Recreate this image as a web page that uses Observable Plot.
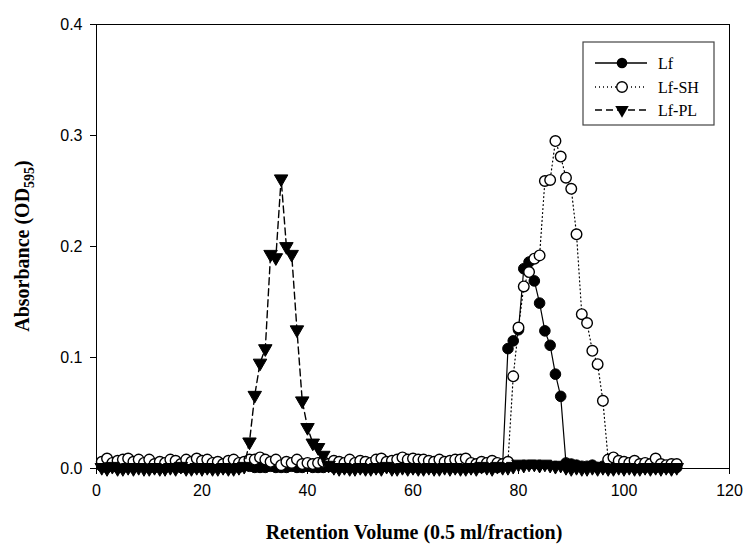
<!DOCTYPE html>
<html>
<head>
<meta charset="utf-8">
<script src="https://cdn.jsdelivr.net/npm/d3@7"></script>
<script src="https://cdn.jsdelivr.net/npm/@observablehq/plot@0.6"></script>
<style>
  html, body { margin: 0; padding: 0; background: #fff; }
  #chart { width: 745px; height: 545px; }
</style>
</head>
<body>
<div id="chart"></div>
<script>
// Fractions 1..110
const fractions = Array.from({length: 110}, (_, i) => i + 1);

// Lf (filled circles, solid line)
const lfValues = [
  0.002,0.001,0.003,0.001,0.001,0.002,0.001,0.003,0.002,0.001,
  0.001,0.002,0.001,0.002,0.003,0.001,0.001,0.002,0.001,0.002,
  0.001,0.003,0.002,0.001,0.001,0.002,0.001,0.003,0.002,0.001,
  0.001,0.001,0.002,0.001,0.001,0.001,0.002,0.001,0.001,0.002,
  0.001,0.001,0.001,0.002,0.001,0.003,0.001,0.001,0.002,0.001,
  0.002,0.001,0.001,0.001,0.002,0.001,0.003,0.002,0.001,0.001,
  0.001,0.002,0.001,0.001,0.001,0.002,0.003,0.001,0.002,0.001,
  0.001,0.002,0.001,0.003,0.002,0.001,0.004,0.108,0.115,0.125,
  0.180,0.186,0.169,0.149,0.124,0.111,0.085,0.065,0.005,0.004,
  0.003,0.002,0.002,0.003,0.001,0.002,0.001,0.001,0.002,0.001,
  0.002,0.001,0.001,0.001,0.002,0.001,0.002,0.001,0.001,0.001
];

// Lf-SH (open circles, dotted line)
const lfShValues = [
  0.006,0.009,0.005,0.007,0.008,0.009,0.006,0.008,0.005,0.008,
  0.004,0.006,0.005,0.008,0.007,0.004,0.008,0.006,0.009,0.007,
  0.008,0.005,0.006,0.004,0.007,0.008,0.005,0.006,0.008,0.008,
  0.010,0.008,0.006,0.008,0.003,0.006,0.005,0.008,0.004,0.005,
  0.004,0.005,0.006,0.004,0.007,0.006,0.005,0.008,0.005,0.007,
  0.006,0.005,0.008,0.009,0.006,0.007,0.008,0.010,0.008,0.009,
  0.008,0.008,0.007,0.006,0.008,0.006,0.007,0.008,0.008,0.009,
  0.005,0.004,0.006,0.005,0.007,0.005,0.004,0.006,0.083,0.127,
  0.164,0.177,0.189,0.192,0.259,0.260,0.295,0.281,0.262,0.252,
  0.211,0.139,0.131,0.106,0.094,0.061,0.008,0.010,0.007,0.006,
  0.005,0.007,0.004,0.005,0.004,0.009,0.004,0.003,0.004,0.004
];

// Lf-PL (down triangles, dashed line)
const lfPlValues = [
  0.001,0.000,0.002,0.000,0.000,0.001,0.000,0.001,0.000,0.000,
  0.001,0.000,0.000,0.001,0.000,0.002,0.000,0.000,0.001,0.000,
  0.001,0.000,0.000,0.001,0.000,0.000,0.001,0.002,0.024,0.066,
  0.095,0.108,0.193,0.190,0.261,0.200,0.193,0.125,0.061,0.037,
  0.023,0.019,0.012,0.003,0.001,0.000,0.001,0.000,0.000,0.001,
  0.000,0.000,0.001,0.000,0.002,0.000,0.000,0.001,0.000,0.001,
  0.000,0.000,0.001,0.000,0.000,0.001,0.000,0.001,0.000,0.000,
  0.001,0.000,0.002,0.001,0.000,0.002,0.001,0.001,0.002,0.004,
  0.003,0.004,0.004,0.003,0.004,0.003,0.002,0.003,0.001,0.000,
  0.001,0.000,0.000,0.001,0.000,0.001,0.000,0.000,0.001,0.000,
  0.001,0.000,0.000,0.001,0.000,0.001,0.000,0.001,0.000,0.001
];

const seriesNames = ["Lf", "Lf-SH", "Lf-PL"];
const xTicks = [0, 20, 40, 60, 80, 100, 120];
const yTicks = [0, 0.1, 0.2, 0.3, 0.4];
const xLabel = "Retention Volume (0.5 ml/fraction)";
const yLabelMain = "Absorbance (OD";
const yLabelSub = "595";

const lf = fractions.map((f, i) => ({x: f, y: lfValues[i]}));
const lfSh = fractions.map((f, i) => ({x: f, y: lfShValues[i]}));
const lfPl = fractions.map((f, i) => ({x: f, y: lfPlValues[i]}));

const W = 745, H = 545;
const mL = 96, mR = 16, mT = 24, mB = 77;
const rCircle = 5.3, rTri = 5;

const plot = Plot.plot({
  width: W,
  height: H,
  marginLeft: mL,
  marginRight: mR,
  marginTop: mT,
  marginBottom: mB,
  style: {fontFamily: "'Liberation Sans', Arial, sans-serif", fontSize: "16px", color: "#000", background: "#fff"},
  x: {domain: [0, 120], ticks: xTicks, tickSize: 6, tickPadding: 10, label: null, tickFormat: d3.format("d")},
  y: {domain: [0, 0.4], ticks: yTicks, tickSize: 6, tickPadding: 8, label: null, tickFormat: d3.format(".1f")},
  marks: [
    Plot.frame({stroke: "#000", strokeWidth: 1}),
    Plot.line(lf, {x: "x", y: "y", stroke: "#000", strokeWidth: 1.2}),
    Plot.dot(lf, {x: "x", y: "y", r: rCircle, fill: "#000", stroke: "#000", strokeWidth: 1}),
    Plot.line(lfSh, {x: "x", y: "y", stroke: "#000", strokeWidth: 1.2, strokeDasharray: "1,3"}),
    Plot.dot(lfSh, {x: "x", y: "y", r: rCircle, fill: "#fff", stroke: "#000", strokeWidth: 1.4}),
    Plot.line(lfPl, {x: "x", y: "y", stroke: "#000", strokeWidth: 1.4, strokeDasharray: "7,4"}),
    Plot.dot(lfPl, {x: "x", y: "y", r: rTri, symbol: "triangle", rotate: 180, fill: "#000", stroke: "#000", strokeWidth: 1})
  ]
});

document.getElementById("chart").appendChild(plot);

const svg = d3.select(plot);
const serif = "'Liberation Serif', 'Times New Roman', serif";

// Axis titles
svg.append("text")
  .attr("x", 414).attr("y", 539)
  .attr("text-anchor", "middle")
  .attr("font-family", serif).attr("font-weight", "bold").attr("font-size", 20)
  .attr("fill", "#000")
  .text(xLabel);

const yl = svg.append("text")
  .attr("transform", "translate(29,246) rotate(-90)")
  .attr("text-anchor", "middle")
  .attr("font-family", serif).attr("font-weight", "bold").attr("font-size", 20)
  .attr("fill", "#000");
yl.append("tspan").text(yLabelMain);
yl.append("tspan").attr("font-size", 14).attr("dy", 5).text(yLabelSub);
yl.append("tspan").attr("dy", -5).text(")");

// Legend
const lg = svg.append("g");
lg.append("rect").attr("x", 583).attr("y", 42).attr("width", 131).attr("height", 83)
  .attr("fill", "#fff").attr("stroke", "#444").attr("stroke-width", 1.2);
const rows = [
  {name: seriesNames[0], y: 63, dash: null, kind: "filled"},
  {name: seriesNames[1], y: 87, dash: "1,3", kind: "open"},
  {name: seriesNames[2], y: 110, dash: "7,4", kind: "tri"}
];
rows.forEach(r => {
  lg.append("line").attr("x1", 595).attr("x2", 647).attr("y1", r.y).attr("y2", r.y)
    .attr("stroke", "#000").attr("stroke-width", 1.3)
    .attr("stroke-dasharray", r.dash);
  if (r.kind === "filled") {
    lg.append("circle").attr("cx", 622).attr("cy", r.y).attr("r", rCircle).attr("fill", "#000");
  } else if (r.kind === "open") {
    lg.append("circle").attr("cx", 622).attr("cy", r.y).attr("r", rCircle).attr("fill", "#fff")
      .attr("stroke", "#000").attr("stroke-width", 1.4);
  } else {
    lg.append("path").attr("transform", `translate(622,${r.y}) rotate(180)`)
      .attr("d", d3.symbol(d3.symbolTriangle, Math.PI * rTri * rTri)())
      .attr("fill", "#000");
  }
  lg.append("text").attr("x", 658).attr("y", r.y + 5.5)
    .attr("text-anchor", "start")
    .attr("font-family", serif).attr("font-size", 16).attr("fill", "#000")
    .text(r.name);
});
</script>
</body>
</html>
